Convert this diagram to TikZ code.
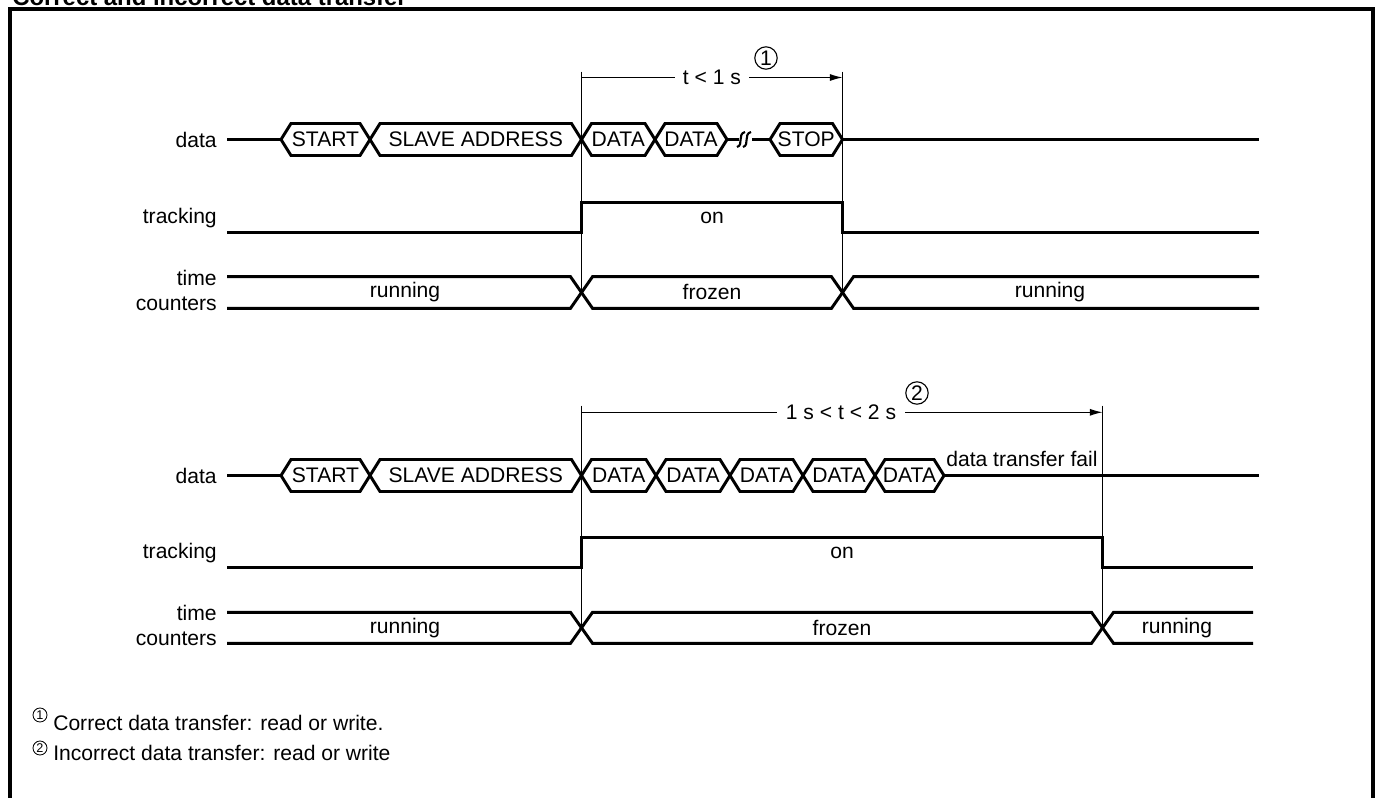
\documentclass[tikz,border=0pt]{standalone}
\usepackage{fontspec}
\setmainfont{Liberation Sans}
\usetikzlibrary{arrows.meta}

\begin{document}
\begin{tikzpicture}[x=0.025cm, y=-0.025cm, >={Latex[length=9pt,width=5pt]},
  font=\fontsize{15}{18}\selectfont,
  sig/.style={line width=2.1pt, line join=miter},
  dimline/.style={line width=0.7pt},
  lbl/.style={anchor=east, inner sep=0pt},
  gap/.style={fill=white, inner xsep=6pt, inner ysep=1pt},
  bigcirc/.style={draw, circle, line width=0.8pt, inner sep=0pt, minimum size=0.56cm, font=\fontsize{15}{16}\selectfont},
  smallcirc/.style={draw, circle, line width=0.6pt, inner sep=0pt, minimum size=0.35cm, font=\fontsize{9}{10}\selectfont}]
  \useasboundingbox (0,0) rectangle (1378,797);
  \node[anchor=base west, inner sep=0pt, font=\fontsize{17}{20}\selectfont\bfseries] (title) at (12,5) {Correct and incorrect data transfer};
  \draw[line width=2.85pt] (10,830) -- (10,9) -- (1373,9) -- (1373,830);

  % --- correct transfer ---
  \coordinate (a0) at (581.5,71.5);
  \coordinate (a1) at (842.5,71.5);
  \node[lbl] (data1) at (217,139.5) {data};
  \node[lbl] (trk1) at (217,218) {tracking};
  \node[lbl, anchor=base east] (time1) at (217,285) {time};
  \node[lbl, anchor=base east] (cnt1) at (217,310) {counters};

  \draw[sig] (227,139.5) -- (281,139.5);
  \foreach \a/\b/\t [count=\i] in {281/370/START, 370/581.5/SLAVE ADDRESS, 581.5/655/DATA, 655/727/DATA, 770/842.5/STOP}
  {
    \draw[sig] (\a,139.5) -- (\a+10,123.5) -- (\b-10,123.5) -- (\b,139.5) -- (\b-10,155.5) -- (\a+10,155.5) -- cycle;
    \node (ha\i) at ({(\a+\b)/2},139.5) {\t};
  }
  % break in the bus
  \draw[sig] (727,139.5) -- (739,139.5);
  \draw[sig] (752,139.5) -- (770,139.5);
  \draw[line width=1.5pt] (737,147) .. controls (744,145) and (737,134) .. (745,132);
  \draw[line width=1.5pt] (743,147) .. controls (750,145) and (743,134) .. (751,132);
  \draw[sig] (842.5,139.5) -- (1259,139.5);

  \draw[sig] (227,232.5) -- (581.5,232.5) -- (581.5,202.5) -- (842.5,202.5) -- (842.5,232.5) -- (1259,232.5);
  \node (on1) at (712,218) {on};

  \draw[sig] (227,276.7) -- (570.5,276.7) -- (592.5,308.3) -- (831.5,308.3) -- (853.5,276.7) -- (1259,276.7);
  \draw[sig] (227,308.3) -- (570.5,308.3) -- (592.5,276.7) -- (831.5,276.7) -- (853.5,308.3) -- (1259,308.3);
  \node (run1) at (405,292) {running};
  \node (frz1) at (712,292) {frozen};
  \node (run2) at (1050,292) {running};

  \draw[dimline] (a0) -- (581.5,292.5);
  \draw[dimline] (a1) -- (842.5,292.5);
  \draw[dimline,->] (581.5,77.5) -- (842.5,77.5);
  \node[gap] (t1) at (712,77.5) {t < 1 s};
  \node[bigcirc] (c1) at (766,58) {1};

  % --- incorrect transfer ---
  \coordinate (b0) at (581.5,405.5);
  \coordinate (b1) at (1102.5,405.5);
  \node[lbl] (data2) at (217,475.5) {data};
  \node[lbl] (trk2) at (217,553) {tracking};
  \node[lbl, anchor=base east] (time2) at (217,620.6) {time};
  \node[lbl, anchor=base east] (cnt2) at (217,645.6) {counters};

  \draw[sig] (227,475.5) -- (281,475.5);
  \foreach \a/\b/\t [count=\i] in {281/370/START, 370/581.5/SLAVE ADDRESS, 581.5/656/DATA, 656/730/DATA, 730/803/DATA, 803/875/DATA, 875/944/DATA}
  {
    \draw[sig] (\a,475.5) -- (\a+10,459.5) -- (\b-10,459.5) -- (\b,475.5) -- (\b-10,491.5) -- (\a+10,491.5) -- cycle;
    \node (hb\i) at ({(\a+\b)/2},475.5) {\t};
  }
  \draw[sig] (944,475.5) -- (1259,475.5);
  \node[anchor=base west, inner sep=0pt] (fail) at (946,466.5) {data transfer fail};

  \draw[sig] (227,567.5) -- (581.5,567.5) -- (581.5,537.3) -- (1102.5,537.3) -- (1102.5,567.5) -- (1253,567.5);
  \node (on2) at (842,553) {on};

  \draw[sig] (227,612.3) -- (570.5,612.3) -- (592.5,643.3) -- (1091.5,643.3) -- (1113.5,612.3) -- (1253,612.3);
  \draw[sig] (227,643.3) -- (570.5,643.3) -- (592.5,612.3) -- (1091.5,612.3) -- (1113.5,643.3) -- (1253,643.3);
  \node (run3) at (405,628) {running};
  \node (frz2) at (842,628) {frozen};
  \node (run4) at (1177,628) {running};

  \draw[dimline] (b0) -- (581.5,628);
  \draw[dimline] (b1) -- (1102.5,628);
  \draw[dimline,->] (581.5,412.3) -- (1102.5,412.3);
  \node[gap] (t2) at (841,412.3) {1 s < t < 2 s};
  \node[bigcirc] (c2) at (917,393) {2};

  % notes
  \node[smallcirc] (n1) at (40,715) {1};
  \node[anchor=base west, inner sep=0pt] (f1) at (53,730) {Correct data transfer: read or write.};
  \node[smallcirc] (n2) at (40,748) {2};
  \node[anchor=base west, inner sep=0pt] (f2) at (53,760) {Incorrect data transfer: read or write};
\end{tikzpicture}
\end{document}
